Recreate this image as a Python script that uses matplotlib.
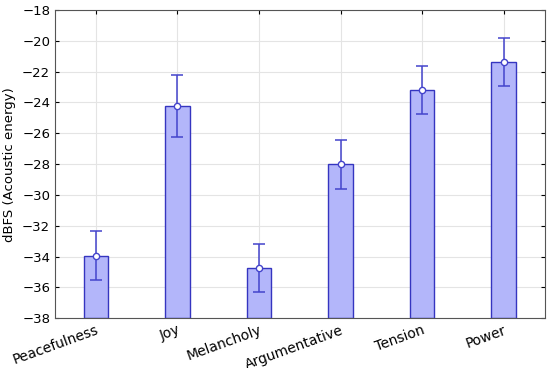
import numpy as np
import matplotlib
matplotlib.use('Agg')
import matplotlib.pyplot as plt

categories = ['Peacefulness', 'Joy', 'Melancholy', 'Argumentative', 'Tension', 'Power']
means = [-33.93, -24.23, -34.73, -28.02, -23.17, -21.38]
errors = [1.57, 2.0, 1.57, 1.6, 1.56, 1.57]

fig, ax = plt.subplots(figsize=(5.5, 3.68), dpi=100)
x = np.arange(len(categories))
base = -38
ax.bar(x, np.array(means) - base, bottom=base, width=0.3,
       color='#b3b6fa', edgecolor='#3535c0', linewidth=1.0, zorder=2)
ax.errorbar(x, means, yerr=errors, fmt='o', color='#4444cc',
            mfc='white', mec='#4444cc', ms=4.5, capsize=4, elinewidth=1.1,
            capthick=1.1, zorder=3)

ax.set_xlim(-0.5, 5.5)
ax.set_ylim(-38, -18)
ax.set_yticks(np.arange(-38, -17, 2))
ax.set_xticks(x)
ax.set_xticklabels(categories, rotation=20, ha='right', rotation_mode='anchor',
                   fontsize=10)
ax.tick_params(axis='y', labelsize=9.5)
ax.tick_params(direction='in', length=3, right=True, top=True)
ax.set_ylabel('dBFS (Acoustic energy)', fontsize=9.5)
ax.grid(True, color='#e4e4e4', linewidth=0.8, zorder=0)
ax.set_axisbelow(True)
for s in ax.spines.values():
    s.set_color('#555555')

plt.subplots_adjust(left=0.1, right=0.99, top=0.973, bottom=0.135)
plt.savefig('out.png')
